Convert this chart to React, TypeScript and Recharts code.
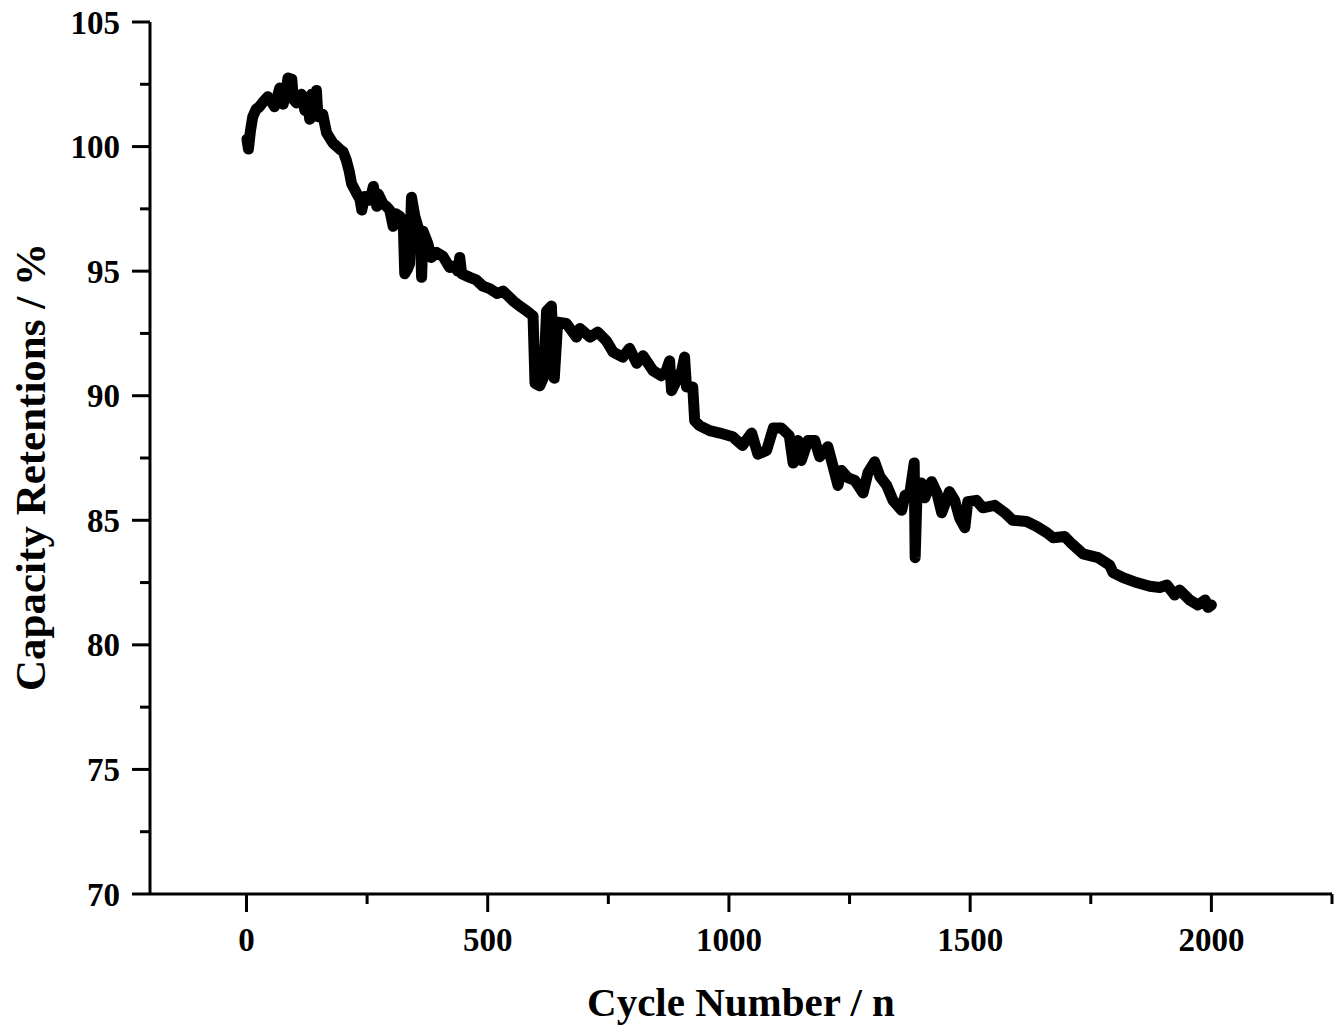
import React from 'react';
import { LineChart, Line, XAxis, YAxis } from 'recharts';

const cycles = [
  1, 4, 8, 13, 20, 27, 35, 44, 52, 58, 64, 69, 76, 82, 86, 94, 97, 104, 110, 114,
  121, 128, 131, 135, 140, 145, 148, 158, 166, 179, 193, 200, 207, 213, 218, 229, 235, 239, 245, 256,
  263, 270, 273, 283, 290, 297, 304, 310, 318, 325, 328, 334, 338, 342, 349, 355, 360, 363, 366, 376,
  383, 394, 407, 421, 430, 438, 442, 446, 463, 476, 490, 504, 520, 532, 553, 570, 581, 594, 598, 608,
  616, 622, 632, 638, 645, 663, 684, 691, 712, 728, 746, 760, 780, 794, 809, 822, 843, 860, 870, 877,
  881, 895, 902, 908, 912, 925, 929, 939, 960, 981, 1008, 1028, 1047, 1060, 1078, 1092, 1109, 1125, 1133, 1143,
  1150, 1164, 1178, 1188, 1205, 1216, 1226, 1233, 1247, 1261, 1278, 1288, 1302, 1313, 1327, 1340, 1358, 1365, 1375, 1384,
  1386, 1390, 1399, 1406, 1420, 1431, 1441, 1457, 1468, 1478, 1489, 1495, 1513, 1526, 1551, 1572, 1588, 1617, 1638, 1659,
  1672, 1696, 1711, 1734, 1765, 1789, 1796, 1817, 1845, 1872, 1893, 1908, 1924, 1934, 1955, 1972, 1987, 1993, 2000,
];

const retention = [
  100.3, 99.9, 100.6, 101.2, 101.5, 101.6, 101.8, 102.0, 101.8, 101.6, 102.0, 102.35, 101.7, 102.2, 102.75, 102.7, 101.9, 101.75, 102.0, 102.1,
  101.45, 101.6, 101.1, 102.1, 101.6, 102.25, 101.2, 101.3, 100.55, 100.15, 99.9, 99.8, 99.45, 99.0, 98.5, 98.1, 97.9, 97.45, 98.0, 97.85,
  98.4, 97.6, 98.1, 97.7, 97.6, 97.45, 96.8, 97.3, 97.2, 96.9, 94.9, 95.1, 95.3, 97.97, 97.2, 96.8, 96.6, 94.75, 96.6, 96.1,
  95.55, 95.75, 95.6, 95.15, 95.2, 95.0, 95.55, 94.9, 94.75, 94.65, 94.4, 94.3, 94.1, 94.2, 93.8, 93.55, 93.4, 93.2, 90.5, 90.4,
  90.75, 93.4, 93.6, 90.7, 92.95, 92.9, 92.35, 92.7, 92.35, 92.55, 92.2, 91.75, 91.55, 91.9, 91.3, 91.6, 91.0, 90.8, 91.0, 91.4,
  90.2, 90.75, 91.0, 91.55, 90.35, 90.35, 89.0, 88.8, 88.6, 88.5, 88.35, 88.0, 88.5, 87.65, 87.8, 88.7, 88.7, 88.4, 87.3, 88.2,
  87.4, 88.2, 88.2, 87.55, 87.95, 87.15, 86.4, 87.0, 86.7, 86.6, 86.1, 86.9, 87.35, 86.75, 86.4, 85.8, 85.4, 86.0, 86.1, 87.3,
  83.5, 86.2, 86.5, 85.9, 86.55, 86.1, 85.3, 86.15, 85.8, 85.1, 84.7, 85.75, 85.8, 85.5, 85.6, 85.3, 85.0, 84.95, 84.75, 84.5,
  84.3, 84.35, 84.05, 83.65, 83.5, 83.2, 82.9, 82.7, 82.5, 82.35, 82.3, 82.4, 82.0, 82.2, 81.8, 81.6, 81.8, 81.5, 81.6,
];

const xTicks = [0, 250, 500, 750, 1000, 1250, 1500, 1750, 2000, 2250];
const yTicks = [70, 72.5, 75, 77.5, 80, 82.5, 85, 87.5, 90, 92.5, 95, 97.5, 100, 102.5, 105];

const data = cycles.map((c, i) => ({ cycle: c, retention: retention[i] }));

const FONT = '"Liberation Serif", "Times New Roman", serif';

// major ticks get a label and a long mark, minor ones only a short mark
const XTick = (props: any) => {
  const { x, y, payload } = props;
  const major = payload.value % 500 === 0;
  return (
    <g>
      <line x1={x} y1={y} x2={x} y2={y + (major ? 18 : 10)} stroke="#000" strokeWidth={3} />
      {major && (
        <text x={x} y={y + 34} dy="0.71em" textAnchor="middle" fontFamily={FONT} fontWeight="bold" fontSize={33} fill="#000">
          {payload.value}
        </text>
      )}
    </g>
  );
};

const YTick = (props: any) => {
  const { x, y, payload } = props;
  const major = payload.value % 5 === 0;
  return (
    <g>
      <line x1={x - (major ? 18 : 10)} y1={y} x2={x} y2={y} stroke="#000" strokeWidth={3} />
      {major && (
        <text x={x - 30} y={y} dy="0.35em" textAnchor="end" fontFamily={FONT} fontWeight="bold" fontSize={33} fill="#000">
          {payload.value}
        </text>
      )}
    </g>
  );
};

const XTitle = () => (
  <text x={741} y={1016} textAnchor="middle" fontFamily={FONT} fontWeight="bold" fontSize={41} fill="#000">
    Cycle Number / n
  </text>
);

const YTitle = () => (
  <text
    x={45}
    y={467}
    transform="rotate(-90, 45, 467)"
    textAnchor="middle"
    fontFamily={FONT}
    fontWeight="bold"
    fontSize={43}
    fill="#000"
  >
    Capacity Retentions / %
  </text>
);

export default function App() {
  return (
    <div style={{ position: 'absolute', left: 0, top: 0, background: '#fff' }}>
      <LineChart width={1340} height={1036} data={data} margin={{ top: 22, right: 8, left: 0, bottom: 0 }}>
        <XAxis
          dataKey="cycle"
          type="number"
          domain={[-200, 2250]}
          ticks={xTicks}
          tickSize={0}
          tickMargin={0}
          tickLine={false}
          tick={<XTick />}
          height={142}
          axisLine={{ stroke: '#000', strokeWidth: 3 }}
          interval={0}
          label={<XTitle />}
        />
        <XAxis
          xAxisId="top"
          orientation="top"
          type="number"
          domain={[-200, 2250]}
          height={0}
          tick={false}
          tickLine={false}
          axisLine={{ stroke: '#000', strokeWidth: 3 }}
        />
        <YAxis
          type="number"
          domain={[70, 105]}
          ticks={yTicks}
          tickSize={0}
          tickMargin={0}
          tickLine={false}
          tick={<YTick />}
          width={150}
          axisLine={{ stroke: '#000', strokeWidth: 3 }}
          interval={0}
          label={<YTitle />}
        />
        <YAxis
          yAxisId="right"
          orientation="right"
          type="number"
          domain={[70, 105]}
          width={0}
          tick={false}
          tickLine={false}
          axisLine={{ stroke: '#000', strokeWidth: 3 }}
        />
        <Line
          type="linear"
          dataKey="retention"
          stroke="#000"
          strokeWidth={11}
          strokeLinejoin="round"
          strokeLinecap="round"
          dot={false}
          isAnimationActive={false}
        />
      </LineChart>
    </div>
  );
}
